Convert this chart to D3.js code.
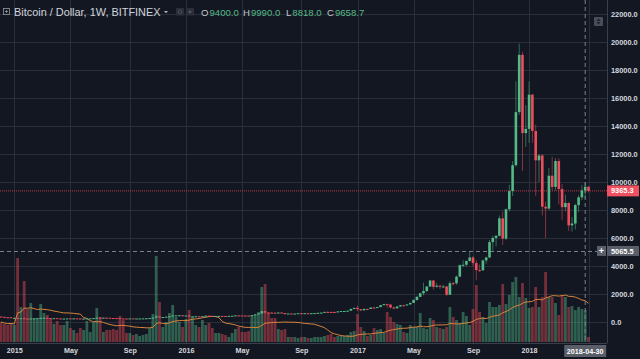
<!DOCTYPE html>
<html><head><meta charset="utf-8">
<script src="https://cdn.jsdelivr.net/npm/d3@7"></script>
<style>html,body{margin:0;padding:0;background:#131722;overflow:hidden}</style>
</head><body><svg id="c" width="640" height="359"></svg>
<script>
// ---------- DATA ----------
const firstWeek = "2014-12-08";
const lastWeek = "2018-05-07";
const opens = [375,350,320,318,272,278,210,250,226,220,234,240,256,276,284,252,246,254,236,222,228,240,238,240,236,226,228,236,245,256,295,282,292,282,266,262,258,236,230,228,240,230,234,236,240,248,264,292,380,330,336,360,388,450,458,462,430,448,380,388,392,372,398,432,420,410,414,418,412,410,420,430,455,448,444,440,438,472,530,590,760,660,652,648,642,660,625,588,592,578,586,610,606,610,604,614,622,640,655,705,700,696,690,740,765,770,790,920,995,905,820,920,915,1015,1000,1050,1185,1260,1230,1020,960,1090,1180,1175,1240,1350,1560,1780,2040,2200,2520,2950,2500,2580,2500,2520,1930,2760,2750,3230,4050,4080,4350,4600,4200,3700,3680,4390,4600,5700,6000,6150,7400,5950,8050,9350,11200,15000,19100,13500,13800,16250,13650,11550,11900,8230,8100,10450,9650,11500,9500,8200,8500,6900,7030,8350,8900,9400,9658.7];
const highs = [378,352,335,320,300,280,255,310,245,240,248,262,298,298,290,256,262,258,238,238,245,245,245,242,240,232,240,250,262,305,315,298,296,285,270,266,262,240,236,242,242,236,238,242,250,268,300,500,390,340,365,395,465,468,465,464,462,450,400,400,395,405,445,440,424,418,422,420,416,422,432,462,462,460,450,446,480,545,600,780,770,710,690,680,675,665,628,600,596,590,615,628,616,614,618,625,645,660,720,745,725,745,745,770,775,795,935,1000,1150,910,930,925,1030,1065,1060,1200,1290,1300,1260,1070,1100,1210,1220,1250,1360,1600,1850,2080,2800,2550,2990,2980,2780,2620,2650,2560,2900,2860,3300,4100,4400,4380,4980,4700,4400,4100,4450,4650,5850,6150,6200,7600,7900,8100,9800,11500,17200,19900,19300,15500,17200,16300,14100,12000,12000,8600,11000,11800,11700,11700,9850,9100,8550,7500,8450,9050,9800,9990,9700];
const lows = [345,310,312,268,262,165,205,215,212,215,230,232,250,266,248,236,240,232,216,218,220,232,235,234,222,220,224,235,240,252,270,276,278,262,255,252,200,195,222,226,226,228,230,234,238,245,262,290,300,315,322,350,385,430,425,415,425,360,372,365,365,368,395,410,400,405,408,405,406,408,418,428,440,440,436,432,436,468,525,585,550,620,630,640,640,620,480,580,570,575,580,600,600,596,600,610,618,632,652,690,685,680,686,730,755,765,785,890,750,760,815,880,910,960,990,1045,1170,980,960,890,950,1080,1150,1160,1230,1340,1500,1750,1900,2100,2500,2300,2450,2350,2480,1850,1920,2600,2650,3200,3900,3950,4300,3950,2970,3550,3650,4150,4550,5100,5400,6100,5500,5850,7900,9000,11100,14800,10800,12500,12800,12800,9000,10000,7600,6000,8000,9400,9400,8400,7300,7900,6500,6450,6600,7850,8700,8818,9250];
const closes = [350,320,318,272,278,210,250,226,220,234,240,256,276,284,252,246,254,236,222,228,240,238,240,236,226,228,236,245,256,295,282,292,282,266,262,258,236,230,228,240,230,234,236,240,248,264,292,380,330,336,360,388,450,458,462,430,448,380,388,392,372,398,432,420,410,414,418,412,410,420,430,455,448,444,440,438,472,530,590,760,660,652,648,642,660,625,588,592,578,586,610,606,610,604,614,622,640,655,705,700,696,690,740,765,770,790,920,995,905,820,920,915,1015,1000,1050,1185,1260,1230,1020,960,1090,1180,1175,1240,1350,1560,1780,2040,2200,2520,2950,2500,2580,2500,2520,1930,2760,2750,3230,4050,4080,4350,4600,4200,3700,3680,4390,4600,5700,6000,6150,7400,5950,8050,9350,11200,15000,19100,13500,13800,16250,13650,11550,11900,8230,8100,10450,9650,11500,9500,8200,8500,6900,7030,8350,8900,9400,9658.7,9365.3];
const volumes = [200,180,170,190,170,840,350,610,330,390,240,230,380,290,270,240,180,210,170,170,210,140,120,90,140,120,210,100,200,340,250,100,120,120,130,120,260,220,90,90,70,80,60,70,80,140,280,860,400,150,200,290,370,250,200,150,230,320,250,170,150,220,170,190,140,90,90,80,70,50,90,130,150,100,100,110,270,270,300,550,580,290,240,240,130,120,130,50,50,50,40,50,50,40,40,50,50,50,60,70,80,50,60,60,60,70,100,110,280,150,110,60,70,140,120,130,90,300,250,200,180,170,100,90,170,150,150,290,140,130,240,220,150,140,130,150,350,250,220,190,300,260,170,330,570,300,250,190,400,350,350,370,580,380,470,600,650,450,590,440,340,350,550,350,450,700,450,450,390,270,460,450,350,360,320,350,330,320,50];
const priceTicks = [0,2000,4000,6000,8000,10000,12000,14000,16000,18000,20000,22000];
const timeTickDates = ["2015-01-05","2015-05-04","2015-09-07","2016-01-04","2016-05-02","2016-09-05","2017-01-02","2017-05-01","2017-09-04","2018-01-01","2018-05-07"];
const timeTickLabels = ["2015","May","Sep","2016","May","Sep","2017","May","Sep","2018",""];
const lastPrice = 9365.3;
const crossPrice = 5065.5;
const crossDate = "2018-04-30";
const legendOHLC = [["O","9400.0"],["H","9990.0"],["L","8818.0"],["C","9658.7"]];

// ---------- SETUP ----------
const parse = d3.utcParse("%Y-%m-%d");
const dates = d3.utcMonday.range(parse(firstWeek), d3.utcDay.offset(parse(lastWeek),1));
const bars = dates.map((d,i)=>({d, o:opens[i], h:highs[i], l:lows[i], c:closes[i], v:volumes[i]}));

const W = 640, H = 359, plotR = 607, plotB = 343;
const font = "'Liberation Sans', Arial, sans-serif";
const UP = "#53b987", DOWN = "#eb4d5c", BG = "#131722", GRID = "#2a2e39", TXT = "#d6d8de";

const svg = d3.select("#c");
svg.append("rect").attr("width",W).attr("height",H).attr("fill",BG);

const x = d3.scaleUtc().domain([dates[0], dates[dates.length-1]]).range([1.1, 588.5]);
const y = d3.scaleLinear().domain([0, 22000]).range([321.75, 14.3]);
const yv = d3.scaleLinear().domain([0, 1000]).range([342, 242]);

svg.append("clipPath").attr("id","clip").append("rect").attr("x",0).attr("y",0).attr("width",plotR).attr("height",plotB);
const plot = svg.append("g").attr("clip-path","url(#clip)");

// grid
const tickDates = timeTickDates.map(parse);
plot.append("g").selectAll("line").data(tickDates).join("line")
  .attr("x1",d=>Math.round(x(d))+0.5).attr("x2",d=>Math.round(x(d))+0.5)
  .attr("y1",0).attr("y2",plotB).attr("stroke",GRID).attr("stroke-width",1);
plot.append("g").selectAll("line").data(priceTicks).join("line")
  .attr("x1",0).attr("x2",plotR)
  .attr("y1",d=>Math.round(y(d))+0.5).attr("y2",d=>Math.round(y(d))+0.5)
  .attr("stroke",GRID).attr("stroke-width",1);

// volume
const bw = 2.6;
plot.append("g").selectAll("rect").data(bars).join("rect")
  .attr("x",d=>x(d.d)-1.4).attr("width",2.8)
  .attr("y",d=>yv(d.v)).attr("height",d=>yv(0)-yv(d.v))
  .attr("fill",d=>d.c>=d.o?UP:DOWN).attr("fill-opacity",0.45);

// volume MA 20
const ma = bars.map((d,i)=>{const s=bars.slice(Math.max(0,i-19),i+1);return {d:d.d, v:d3.mean(s,e=>e.v)};});
plot.append("path").datum(ma)
  .attr("d",d3.line().x(d=>x(d.d)).y(d=>yv(d.v)))
  .attr("fill","none").attr("stroke","#d9833b").attr("stroke-width",1);

// crosshair / price lines
plot.append("line").attr("x1",0).attr("x2",plotR).attr("y1",y(lastPrice)).attr("y2",y(lastPrice))
  .attr("stroke","#c0394a").attr("stroke-width",1).attr("stroke-dasharray","1,1");
plot.append("line").attr("x1",0).attr("x2",plotR).attr("y1",Math.round(y(crossPrice))+0.5).attr("y2",Math.round(y(crossPrice))+0.5)
  .attr("stroke","#7d808a").attr("stroke-width",1).attr("stroke-dasharray","4,3");
plot.append("line").attr("x1",x(parse(crossDate))).attr("x2",x(parse(crossDate))).attr("y1",0).attr("y2",plotB)
  .attr("stroke","#7d808a").attr("stroke-width",1).attr("stroke-dasharray","4,3");

// candles
const cg = plot.append("g");
cg.selectAll("line").data(bars).join("line")
  .attr("x1",d=>x(d.d)).attr("x2",d=>x(d.d))
  .attr("y1",d=>y(d.h)).attr("y2",d=>y(d.l))
  .attr("stroke",d=>d.c>=d.o?UP:DOWN).attr("stroke-width",0.7).attr("stroke-opacity",0.75);
cg.selectAll("rect").data(bars).join("rect")
  .attr("x",d=>x(d.d)-bw/2).attr("width",bw)
  .attr("y",d=>y(Math.max(d.o,d.c)))
  .attr("height",d=>Math.max(1, Math.abs(y(d.o)-y(d.c))))
  .attr("fill",d=>d.c>=d.o?UP:DOWN);

// borders
svg.append("line").attr("x1",plotR+0.5).attr("x2",plotR+0.5).attr("y1",0).attr("y2",plotB).attr("stroke","#3b3f4b");
svg.append("line").attr("x1",0).attr("x2",plotR).attr("y1",plotB+0.5).attr("y2",plotB+0.5).attr("stroke","#3b3f4b");

// price axis
const ya = svg.append("g").attr("transform",`translate(${plotR},0)`)
  .call(d3.axisRight(y).tickValues(priceTicks).tickFormat(d=>d3.format(".1f")(d)).tickSize(0).tickPadding(4));
ya.select(".domain").remove();
ya.selectAll("text").attr("fill",TXT).attr("font-family",font).attr("font-size","7.4px").attr("font-weight","bold");

// time axis
const xa = svg.append("g").attr("transform",`translate(0,${plotB})`)
  .call(d3.axisBottom(x).tickValues(tickDates).tickFormat((d,i)=>timeTickLabels[i]).tickSize(0).tickPadding(4));
xa.select(".domain").remove();
xa.selectAll("text").attr("fill",TXT).attr("font-family",font).attr("font-size","7.2px").attr("font-weight","bold").attr("dy","0.9em");

// last price label
const lp = svg.append("g");
lp.append("rect").attr("x",607).attr("y",y(lastPrice)-5.5).attr("width",32).attr("height",11).attr("fill","#ef5160");
lp.append("text").attr("x",611).attr("y",y(lastPrice)+2.6).text(lastPrice.toFixed(1))
  .attr("fill","#fff").attr("font-family",font).attr("font-size","7.4px").attr("font-weight","bold");

// crosshair labels
const cp = svg.append("g");
cp.append("rect").attr("x",607).attr("y",y(crossPrice)-5).attr("width",32).attr("height",10).attr("fill","#5a5e69");
cp.append("text").attr("x",611).attr("y",y(crossPrice)+2.6).text(crossPrice.toFixed(1))
  .attr("fill","#fff").attr("font-family",font).attr("font-size","7.4px").attr("font-weight","bold");
cp.append("rect").attr("x",597).attr("y",y(crossPrice)-5).attr("width",9).attr("height",10).attr("fill","#5a5e69");
cp.append("text").attr("x",601.5).attr("y",y(crossPrice)+3).attr("text-anchor","middle").text("+")
  .attr("fill","#fff").attr("font-family",font).attr("font-size","9px").attr("font-weight","bold");
const cx = x(parse(crossDate));
cp.append("rect").attr("x",cx-21).attr("y",345).attr("width",42).attr("height",12).attr("fill","#5a5e69");
cp.append("text").attr("x",cx).attr("y",354).attr("text-anchor","middle").text(crossDate)
  .attr("fill","#fff").attr("font-family",font).attr("font-size","7.2px").attr("font-weight","bold");

// scale toggle icon
const ic = svg.append("g");
ic.append("rect").attr("x",594).attr("y",17).attr("width",9).attr("height",9).attr("rx",1).attr("fill","#4a4e5a");
ic.append("path").attr("d","M596.5,21 L598.5,18.5 L600.5,21 Z M596.5,22 L598.5,24.5 L600.5,22 Z").attr("fill","#1e222d");

// legend / title
const tg = svg.append("g").attr("font-family",font);
tg.append("rect").attr("x",3.5).attr("y",8.5).attr("width",6).attr("height",6).attr("fill","none").attr("stroke","#9598a1").attr("stroke-width",0.8);
tg.append("path").attr("d","M5,11.5 H8 M6.5,10 V13").attr("stroke","#9598a1").attr("stroke-width",0.8);
tg.append("text").attr("x",14).attr("y",15.6).text("Bitcoin / Dollar, 1W, BITFINEX")
  .attr("fill","#d1d4dc").attr("font-size","10.9px");
tg.append("path").attr("d","M164,11 L168,11 L166,13.2 Z").attr("fill","#b0b3bb");
tg.append("rect").attr("x",176).attr("y",8).attr("width",8).attr("height",7.5).attr("fill","#2a2e39");
tg.append("circle").attr("cx",180).attr("cy",11.8).attr("r",1.8).attr("fill","none").attr("stroke","#50535e").attr("stroke-width",0.8);
tg.append("rect").attr("x",186).attr("y",8).attr("width",8).attr("height",7.5).attr("fill","#2a2e39");
tg.append("circle").attr("cx",190).attr("cy",11.8).attr("r",1.5).attr("fill","#50535e");
const legX = [201, 243, 286, 327];
legendOHLC.forEach((p,i)=>{
  const t = tg.append("text").attr("x",legX[i]).attr("y",15.6).attr("font-size","9.6px");
  t.append("tspan").text(p[0]).attr("fill","#c3c6ce");
  t.append("tspan").text(p[1]).attr("fill","#53b987").attr("dx","1");
});
</script>
</body></html>
